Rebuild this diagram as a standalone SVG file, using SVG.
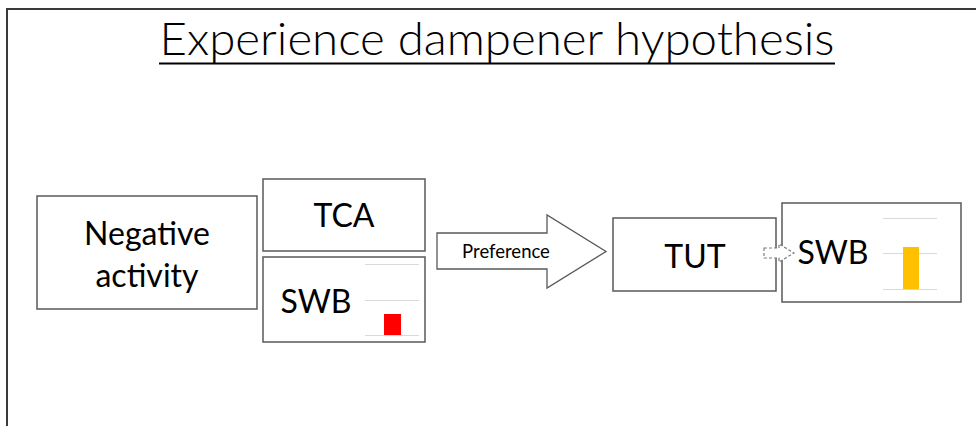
<svg xmlns="http://www.w3.org/2000/svg" width="976" height="426" viewBox="0 0 976 426">
  <style>
    .box { fill: #ffffff; stroke: #595959; stroke-width: 1.5; }
    .lbl { font-family: Lato, "Open Sans", "Liberation Sans", sans-serif; fill: #000000; text-anchor: middle; }
    .big { font-size: 32px; }
    .grid { stroke: #d9d9d9; stroke-width: 1; }
  </style>
  <rect width="976" height="426" fill="#ffffff"/>

  <!-- slide frame -->
  <path d="M7 426 V9 H976" fill="none" stroke="#3a3a3a" stroke-width="2"/>

  <!-- title -->
  <g id="title">
    <text x="497" y="55" class="lbl" font-size="46" font-weight="300" textLength="675" lengthAdjust="spacingAndGlyphs">Experience dampener hypothesis</text>
    <line x1="159" y1="63.5" x2="835" y2="63.5" stroke="#000000" stroke-width="2"/>
  </g>

  <g id="negative-activity">
    <rect x="37" y="196" width="220" height="113" class="box"/>
    <text x="147" y="245" class="lbl big">Negative</text>
    <text x="147" y="287" class="lbl big">activity</text>
  </g>

  <g id="tca">
    <rect x="263" y="179" width="162" height="72" class="box"/>
    <text x="344" y="227" class="lbl big">TCA</text>
  </g>

  <g id="swb-left">
    <rect x="263" y="257" width="162" height="85" class="box"/>
    <text x="316" y="313" class="lbl big">SWB</text>
    <line x1="365" y1="264.5" x2="419" y2="264.5" class="grid"/>
    <line x1="365" y1="300.5" x2="419" y2="300.5" class="grid"/>
    <line x1="365" y1="335.5" x2="419" y2="335.5" class="grid"/>
    <rect x="384" y="314" width="17" height="21" fill="#ff0000"/>
  </g>

  <g id="tut">
    <rect x="613" y="218" width="163" height="73" class="box"/>
    <text x="695" y="268" class="lbl big">TUT</text>
  </g>

  <g id="swb-right">
    <rect x="782" y="203" width="179" height="99" class="box"/>
    <text x="833" y="264" class="lbl big">SWB</text>
    <line x1="883" y1="218.5" x2="937" y2="218.5" class="grid"/>
    <line x1="883" y1="253.5" x2="937" y2="253.5" class="grid"/>
    <line x1="883" y1="289.5" x2="937" y2="289.5" class="grid"/>
    <rect x="903" y="247" width="16" height="42" fill="#ffc000"/>
  </g>

  <g id="connectors">
    <g id="preference">
      <path d="M437 233 H547 V215 L606 251.5 L547 288 V269 H437 Z" fill="#ffffff" stroke="#595959" stroke-width="1.3"/>
      <text x="506" y="258" class="lbl" font-size="18.5">Preference</text>
    </g>
    <!-- small dashed block arrow drawn across the two box edges -->
    <path id="tut-to-swb" d="M764 248 H779 V244 L794 253 L779 262 V258 H764 Z" fill="#ffffff" stroke="#7f7f7f" stroke-width="1.2" stroke-dasharray="3 2"/>
  </g>
</svg>
